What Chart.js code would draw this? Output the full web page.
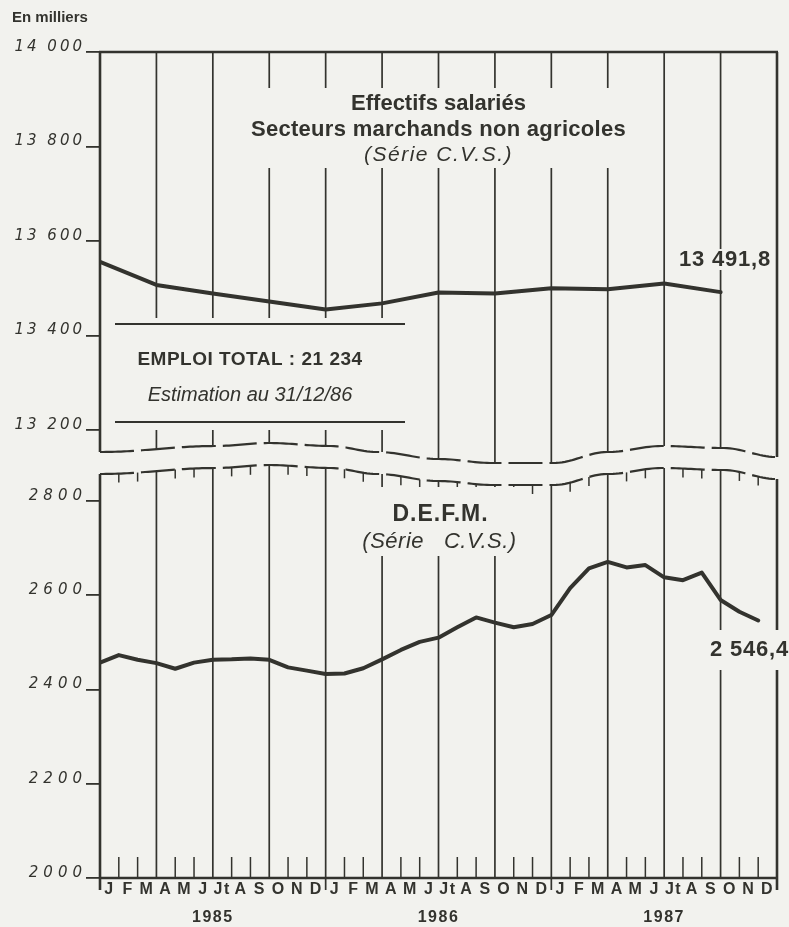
<!DOCTYPE html>
<html lang="fr">
<head>
<meta charset="utf-8">
<title>Effectifs salariés et D.E.F.M.</title>
<script src="https://cdn.jsdelivr.net/npm/chart.js@4.4.1/dist/chart.umd.min.js"></script>
<style>
  html, body { margin: 0; padding: 0; background: #f2f2ee; }
  #wrap { position: relative; width: 789px; height: 927px; }
</style>
</head>
<body>
<div id="wrap"><canvas id="chart" width="789" height="927"></canvas></div>
<script>
// months Jan 1985 .. Dec 1987
var monthLabels = [
  "J", "F", "M", "A", "M", "J", "Jt", "A", "S", "O", "N", "D",
  "J", "F", "M", "A", "M", "J", "Jt", "A", "S", "O", "N", "D",
  "J", "F", "M", "A", "M", "J", "Jt", "A", "S", "O", "N", "D"
];
var yearLabels = ["1985", "1986", "1987"];

// effectifs salariés, one value per quarter (in thousands)
var salaries = [13556, 13507, 13489, 13472, 13455, 13468, 13491, 13489, 13500, 13498, 13510, 13491.8];
// D.E.F.M., one value per month (in thousands)
var defm = [
  2457, 2473, 2463, 2456, 2444, 2457, 2463, 2464, 2466, 2463, 2447, 2440,
  2433, 2434, 2445, 2464, 2484, 2501, 2510, 2532, 2553, 2542, 2532, 2539,
  2558, 2615, 2657, 2671, 2659, 2664, 2638, 2632, 2648, 2590, 2565, 2546.4
];

var salariesTicks = [13200, 13400, 13600, 13800, 14000];
var salariesTickLabels = ["13 200", "13 400", "13 600", "13 800", "14 000"];
var defmTicks = [2000, 2200, 2400, 2600, 2800];
var defmTickLabels = ["2000", "2200", "2400", "2600", "2800"];

var salariesLast = "13 491,8";
var defmLast = "2 546,4";

var INK = "#33332e";
var PAPER = "#f2f2ee";
var SANS = "'Liberation Sans', Arial, sans-serif";
var TICK_FONT = "italic 15px 'DejaVu Sans', sans-serif";

// shape of the axis break between the two panels (pixel offsets)
var breakShape = [[0, 0], [0.17, -6], [0.25, -9], [0.34, -6], [0.41, 0], [0.5, 7],
  [0.58, 11], [0.67, 11], [0.75, 0], [0.83, -6], [0.92, -4], [1, 5]];

function breakDy(t) {
  for (var i = 1; i < breakShape.length; i++) {
    if (t <= breakShape[i][0]) {
      var a = breakShape[i - 1], b = breakShape[i];
      var u = (t - a[0]) / (b[0] - a[0]);
      var s = (1 - Math.cos(Math.PI * u)) / 2;
      return a[1] + (b[1] - a[1]) * s;
    }
  }
  return breakShape[breakShape.length - 1][1];
}

function seg(c, x1, y1, x2, y2) {
  c.beginPath(); c.moveTo(x1, y1); c.lineTo(x2, y2); c.stroke();
}

function label(c, str, x, y, font, align, spacing, maxW) {
  c.font = font;
  c.textAlign = align || "center";
  c.textBaseline = "middle";
  c.letterSpacing = spacing || "0px";
  if (maxW) c.fillText(str, x, y, maxW); else c.fillText(str, x, y);
  c.letterSpacing = "0px";
}

function drawTickLabels(c, scale, values, texts, spacing) {
  var right = scale.right - 18 + spacing;
  values.forEach(function (v, i) {
    label(c, texts[i], right, scale.getPixelForValue(v) - 5, TICK_FONT, "right", spacing + "px");
  });
}

function drawFrame(chart) {
  var c = chart.ctx, a = chart.chartArea;
  var sx = chart.scales.x, s2 = chart.scales.y2;
  var base = s2.getPixelForValue(13200) + 22;
  function topWave(px) { return base + breakDy((px - a.left) / (a.right - a.left)); }
  function botWave(px) { return topWave(px) + 22; }

  c.save();
  c.strokeStyle = INK;
  c.fillStyle = INK;

  for (var n = 0; n <= 36; n++) {
    var px = sx.getPixelForValue(n);
    if (n % 3 === 0) {
      c.lineWidth = (n === 0 || n === 36) ? 2.6 : 1.7;
      seg(c, px, a.top, px, topWave(px));
      seg(c, px, botWave(px), px, a.bottom + (n % 12 === 0 ? 12 : 0));
    } else {
      c.lineWidth = 1.5;
      seg(c, px, a.bottom, px, a.bottom - 21);
      seg(c, px, botWave(px), px, botWave(px) + 9);
    }
  }

  c.lineWidth = 2.6;
  seg(c, a.left - 1, a.top, a.right + 1, a.top);
  seg(c, a.left - 1, a.bottom, a.right + 1, a.bottom);

  // broken axis
  c.lineWidth = 2.2;
  c.setLineDash([34, 7]);
  [topWave, botWave].forEach(function (fn) {
    c.beginPath();
    for (var x = a.left; x <= a.right; x += 3) {
      if (x === a.left) c.moveTo(x, fn(x)); else c.lineTo(x, fn(x));
    }
    c.stroke();
  });
  c.setLineDash([]);

  // blank areas behind the texts
  c.fillStyle = PAPER;
  c.fillRect(230, 88, 415, 80);
  c.fillRect(110, 318, 300, 112);
  c.fillRect(358, 487, 164, 69);
  c.fillRect(676, 249, 96, 21);
  c.fillRect(706, 630, 83, 40);

  c.fillStyle = INK;
  c.lineWidth = 2;
  seg(c, 115, 324, 405, 324);
  seg(c, 115, 422, 405, 422);

  drawTickLabels(c, chart.scales.y2, salariesTicks, salariesTickLabels, 3);
  drawTickLabels(c, chart.scales.y, defmTicks, defmTickLabels, 5);

  var mid = sx.getPixelForValue(18);
  label(c, "En milliers", 12, 18, "bold 15px " + SANS, "left", "0px", 78);
  label(c, "Effectifs salariés", mid, 104, "bold 22px " + SANS, "center");
  label(c, "Secteurs marchands non agricoles", mid, 130, "bold 22px " + SANS, "center", "0.3px", 380);
  label(c, "(Série C.V.S.)", mid, 155, "italic 21px " + SANS, "center", "1.5px");

  label(c, "EMPLOI TOTAL : 21 234", 250, 360, "bold 19px " + SANS, "center", "0.5px", 226);
  label(c, "Estimation au 31/12/86", 250, 395, "italic 20px " + SANS, "center", "0px", 206);

  label(c, "D.E.F.M.", mid + 2, 515, "bold 23px " + SANS, "center", "1px");
  label(c, "(Série   C.V.S.)", mid + 1, 542, "italic 22px " + SANS, "center", "0.5px");

  label(c, salariesLast, 771, 260, "bold 22px " + SANS, "right", "0.8px");
  label(c, defmLast, 789, 650, "bold 22px " + SANS, "right", "0.8px");
  c.restore();
}

var paperPlugin = {
  id: "paper",
  beforeDraw: function (chart) {
    var c = chart.ctx;
    c.save();
    c.fillStyle = PAPER;
    c.fillRect(0, 0, chart.width, chart.height);
    c.restore();
    c.letterSpacing = "1.5px";
  },
  beforeDatasetsDraw: function (chart) {
    chart.ctx.letterSpacing = "0px";
    drawFrame(chart);
  }
};

function valueAxis(min, max, weight, width, ticks) {
  return {
    type: "linear",
    position: "left",
    weight: weight,
    min: min,
    max: max,
    afterBuildTicks: function (s) {
      s.ticks = ticks.map(function (v) { return { value: v }; });
    },
    afterFit: function (s) { s.width = width; },
    ticks: { display: false },
    grid: { display: true, drawOnChartArea: false, drawTicks: true, tickLength: 14, color: INK, lineWidth: 1.8 },
    border: { display: false },
  };
}

new Chart(document.getElementById("chart"), {
  type: "line",
  data: {
    datasets: [
      {
        label: "Effectifs salariés",
        yAxisID: "y2",
        data: salaries.map(function (v, i) { return { x: i * 3, y: v }; }),
        borderColor: INK,
        borderWidth: 4,
        pointRadius: 0,
        tension: 0,
        borderJoinStyle: "round",
        borderCapStyle: "round",
      },
      {
        label: "D.E.F.M.",
        yAxisID: "y",
        data: defm.map(function (v, i) { return { x: i, y: v }; }),
        borderColor: INK,
        borderWidth: 4,
        pointRadius: 0,
        tension: 0,
        borderJoinStyle: "round",
        borderCapStyle: "round",
      },
    ],
  },
  options: {
    responsive: false,
    animation: false,
    layout: { padding: { top: 52, right: 12, left: 0, bottom: 0 } },
    plugins: { legend: { display: false }, tooltip: { enabled: false } },
    scales: {
      x: {
        type: "linear",
        position: "bottom",
        weight: 0,
        min: 0,
        max: 36,
        afterBuildTicks: function (s) {
          s.ticks = monthLabels.map(function (_, i) { return { value: i + 0.5 }; });
        },
        afterFit: function (s) { s.height = 22; },
        ticks: {
          autoSkip: false,
          maxRotation: 0,
          padding: 2,
          color: INK,
          font: { family: SANS, size: 16, weight: "bold" },
          callback: function (v, i) { return monthLabels[i]; },
        },
        grid: { display: false, drawTicks: false },
        border: { display: false },
      },
      xYear: {
        type: "linear",
        position: "bottom",
        weight: 1,
        min: 0,
        max: 36,
        afterBuildTicks: function (s) {
          s.ticks = yearLabels.map(function (_, i) { return { value: i * 12 + 6 }; });
        },
        afterFit: function (s) { s.height = 27; },
        ticks: {
          autoSkip: false,
          maxRotation: 0,
          padding: 8,
          color: INK,
          font: { family: SANS, size: 16, weight: "bold" },
          callback: function (v, i) { return yearLabels[i]; },
        },
        grid: { display: false, drawTicks: false },
        border: { display: false },
      },
      y: valueAxis(2000, 3752.8, 1, 100, defmTicks),
      y2: valueAxis(12251.9, 14000, 0, 0, salariesTicks),
    },
  },
  plugins: [paperPlugin],
});
</script>
</body>
</html>
